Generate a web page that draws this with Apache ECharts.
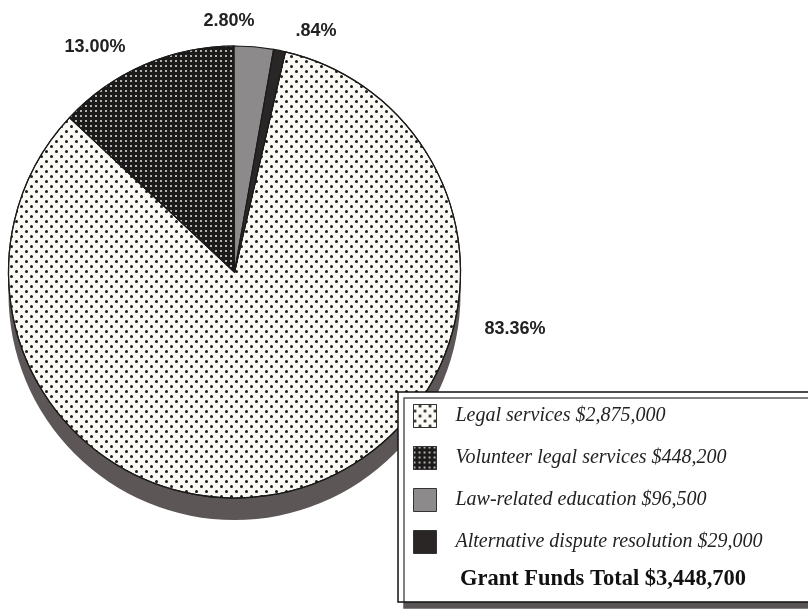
<!DOCTYPE html>
<html>
<head>
<meta charset="utf-8">
<script src="https://cdn.jsdelivr.net/npm/echarts@6/dist/echarts.min.js"></script>
<style>
html,body{margin:0;padding:0;background:#fff;}
#chart{width:808px;height:609px;}
</style>
</head>
<body>
<div id="chart"></div>
<script>
// ---- data ----
var categories = ['Legal services', 'Volunteer legal services', 'Law-related education', 'Alternative dispute resolution'];
var amounts = [2875000, 448200, 96500, 29000];
var totalLabel = 'Grant Funds Total';

// ---- layout / style ----
var labelPos = [[515, 329], [95, 47], [229, 21], [316, 31]];
var CX = 234.5, CY = 272, R = 226;

function money(v) { return '$' + v.toString().replace(/\B(?=(\d{3})+(?!\d))/g, ','); }
var total = amounts.reduce(function (a, b) { return a + b; }, 0);
function pct(v) {
  var s = (v / total * 100).toFixed(2);
  if (s.charAt(0) === '0') s = s.substring(1);
  return s + '%';
}

var styles = [
  { color: '#fbfaf5', decal: { symbol: 'circle', symbolSize: 1, color: '#1a1a1a',
      dashArrayX: [[2.2, 6.2], [0, 4.2, 2.2, 2.0]], dashArrayY: [2.2, 2.0] } },
  { color: '#1d1a1a', decal: { symbol: 'circle', symbolSize: 1, color: '#e6e6e6',
      dashArrayX: [2, 2.2], dashArrayY: [2, 2.2] } },
  { color: '#8c8a8a' },
  { color: '#2a2626' }
];

var pieData = categories.map(function (c, i) {
  var it = { name: c, value: amounts[i], itemStyle: { color: styles[i].color, borderColor: '#1a1a1a', borderWidth: 1.2 } };
  if (styles[i].decal) it.itemStyle.decal = styles[i].decal;
  return it;
});

var chart = echarts.init(document.getElementById('chart'), null, { renderer: 'canvas' });
chart.setOption({
  backgroundColor: '#ffffff',
  animation: false,
  legend: {
    data: categories,
    orient: 'vertical',
    left: 413,
    top: 404,
    itemWidth: 23,
    itemHeight: 23,
    itemGap: 18,
    padding: 0,
    z: 10,
    selectedMode: false,
    icon: 'rect',
    itemStyle: { borderColor: '#333', borderWidth: 1 },
    textStyle: { fontFamily: 'Liberation Serif', fontStyle: 'italic', fontSize: 20, color: '#222', padding: [0, 0, 0, 14] },
    formatter: function (name) { return name + ' ' + money(amounts[categories.indexOf(name)]); }
  },
  graphic: [
    { type: 'rect', z: 5, shape: { x: 398, y: 392, width: 430, height: 210 },
      style: { fill: '#fff', stroke: '#111', lineWidth: 1.5, shadowColor: '#5a5555', shadowOffsetX: 6, shadowOffsetY: 6, shadowBlur: 0 } },
    { type: 'text', z: 11, x: 603, y: 579,
      style: { text: totalLabel + ' ' + money(total), fontFamily: 'Liberation Serif', fontWeight: 'bold', fontSize: 22.5, fill: '#111', textAlign: 'center', textVerticalAlign: 'middle' } }
  ],
  series: [
    {
      type: 'pie', silent: true, z: 1,
      center: [CX, CY + 22], radius: R,
      label: { show: false }, labelLine: { show: false },
      emphasis: { disabled: true },
      data: [{ name: 'shadow', value: 1, itemStyle: { color: '#5c5656' } }]
    },
    {
      type: 'pie', z: 2,
      center: [CX, CY], radius: R,
      startAngle: 77, clockwise: true,
      avoidLabelOverlap: false,
      emphasis: { disabled: true, scale: false },
      label: {
        show: true, position: 'outside',
        fontFamily: 'Liberation Sans', fontWeight: 'bold', fontSize: 18, color: '#222',
        formatter: function (p) { return pct(p.value); }
      },
      labelLine: { show: false },
      labelLayout: function (p) {
        var q = labelPos[p.dataIndex];
        return { x: q[0], y: q[1], align: 'center', verticalAlign: 'middle' };
      },
      data: pieData
    }
  ]
});
</script>
</body>
</html>
